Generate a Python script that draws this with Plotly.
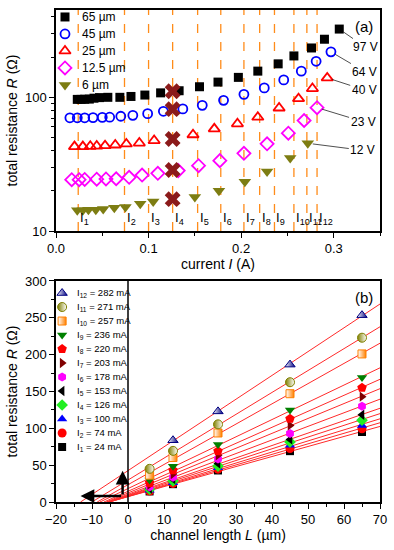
import numpy as np
import plotly.graph_objects as go

FONT = "Liberation Sans, Arial, Helvetica, sans-serif"

# ---------------- panel (a): R vs current for each channel length ----------------
I_65 = [0.023, 0.027, 0.031, 0.036, 0.041, 0.047, 0.056, 0.069, 0.081, 0.096, 0.113,
        0.133, 0.155, 0.175, 0.197, 0.218, 0.240, 0.257, 0.276, 0.290, 0.306]
R_65 = [96.5, 96.5, 96.8, 97.0, 98.5, 99.5, 100, 100, 101.5, 104, 108,
        112, 120, 130, 141, 157, 178, 204, 234, 272, 324]

I_45 = [0.015, 0.023, 0.031, 0.040, 0.050, 0.058, 0.070, 0.083, 0.099, 0.116,
        0.137, 0.158, 0.181, 0.203, 0.225, 0.246, 0.265, 0.281, 0.297]
R_45 = [70.3, 70.3, 70.3, 70.5, 70.8, 71.0, 72.2, 73.3, 75.5, 78.6,
        81.9, 87.1, 94.9, 105.3, 117.6, 135, 157, 186, 219]

I_25 = [0.020, 0.029, 0.037, 0.044, 0.053, 0.064, 0.076, 0.090, 0.106, 0.148,
        0.171, 0.196, 0.218, 0.241, 0.262, 0.277, 0.293]
R_25 = [42.8, 42.8, 43.0, 43.2, 43.5, 44.0, 44.8, 45.5, 47.5, 52.5,
        58.1, 63.4, 71.0, 83.2, 97.8, 116.3, 139.7]

I_12p5 = [0.017, 0.025, 0.031, 0.044, 0.054, 0.065, 0.079, 0.093, 0.110, 0.132,
          0.154, 0.177, 0.203, 0.228, 0.251, 0.268, 0.282]
R_12p5 = [24.2, 24.2, 24.3, 24.4, 24.5, 24.6, 25.2, 26.2, 27.0, 28.3,
          30.8, 33.6, 38.1, 44.9, 53.9, 67.1, 83.7]

I_6 = [0.023, 0.029, 0.035, 0.043, 0.051, 0.063, 0.075, 0.091, 0.105, 0.150,
       0.176, 0.204, 0.228, 0.253, 0.272]
R_6 = [14.3, 14.3, 14.4, 14.45, 14.6, 14.9, 15.1, 16.0, 16.6, 18.0,
       20.0, 23.35, 27.9, 35.2, 45.3]

series_names = ["65 µm", "45 µm", "25 µm", "12.5 µm", "6 µm"]
voltage_labels = ["97 V", "64 V", "40 V", "23 V", "12 V"]
x_ticks_a = [0.0, 0.1, 0.2, 0.3]
x_ticklabels_a = ["0.0", "0.1", "0.2", "0.3"]

# ---------------- panel (b): R vs channel length at fixed currents ----------------
currents_mA = [24, 74, 100, 126, 153, 178, 203, 220, 236, 257, 271, 282]
lengths_um = [6, 12.5, 25, 45, 65]
R_I1 = [14.3, 24.2, 42.8, 69.0, 95.0]
R_I2 = [14.9, 25.2, 44.6, 72.5, 99.5]
R_I3 = [15.8, 26.2, 46.6, 77.0, 104]
R_I4 = [17.3, 28.6, 48.8, 81.5, 111]
R_I5 = [18.2, 31.0, 52.3, 85.0, 118.5]
R_I6 = [20.2, 33.7, 58.5, 93.0, 130]
R_I7 = [23.3, 38.0, 63.5, 104, 143]
R_I8 = [26.0, 43.0, 69.0, 113, 155]
R_I9 = [30.0, 48.6, 78.0, 125, 169]
R_I10 = [36.5, 60.4, 93.7, 147, 201]
R_I11 = [45.0, 69.4, 105.4, 162.6, 223]
R_I12 = [None, 83.8, 123, 186.5, 253.6]
R_by_current = [R_I1, R_I2, R_I3, R_I4, R_I5, R_I6, R_I7, R_I8, R_I9, R_I10, R_I11, R_I12]

fig = go.Figure()

# ---- panel (a) traces ----
styles_a = [
    dict(symbol="square", color="black", size=9),
    dict(symbol="circle-open", color="#0000ff", size=9, line=dict(width=1.8, color="#0000ff")),
    dict(symbol="triangle-up-open", color="#ff0000", size=10, line=dict(width=1.8, color="#ff0000")),
    dict(symbol="diamond-open", color="#ff00ff", size=10, line=dict(width=1.8, color="#ff00ff")),
    dict(symbol="triangle-down", color="#7d7d12", size=11),
]
data_a = [(I_65, R_65), (I_45, R_45), (I_25, R_25), (I_12p5, R_12p5), (I_6, R_6)]
for name, (xi, yi), st in zip(series_names, data_a, styles_a):
    fig.add_trace(go.Scatter(x=xi, y=yi, mode="markers", name=name, marker=st,
                             showlegend=False, xaxis="x", yaxis="y"))

# crosses at I4 (interpolated resistances)
fig.add_trace(go.Scatter(x=[currents_mA[3] / 1000] * len(lengths_um), y=R_I4,
                         mode="markers", showlegend=False, xaxis="x", yaxis="y",
                         marker=dict(symbol="x", size=14, color="#8b1a1a")))

# custom legend for panel (a)
for k, (name, st) in enumerate(zip(series_names, styles_a)):
    fig.add_trace(go.Scatter(x=[9], y=[k + 0.41], mode="markers", showlegend=False,
                             marker=st, xaxis="x4", yaxis="y4"))

shapes = []
annotations = []
for k, name in enumerate(series_names):
    annotations.append(dict(xref="x4", yref="y4", x=24, y=k + 0.41, text=name, showarrow=False,
                            xanchor="left", font=dict(size=12, color="black", family=FONT)))

for k, c in enumerate(currents_mA):
    shapes.append(dict(type="line", xref="x", yref="y domain", x0=c / 1000, x1=c / 1000,
                       y0=0, y1=1, line=dict(color="#ff8c1a", width=1.3, dash="dash"), layer="below"))
    annotations.append(dict(xref="x", yref="y", x=c / 1000, y=np.log10(12.3),
                            text=f"I<sub>{k + 1}</sub>", showarrow=False, xanchor="left",
                            xshift=0, font=dict(size=13, color="black", family=FONT)))

offsets = [(26, 18), (34, 20), (37, 12), (46, 14), (55, 7)]
for (xi, yi), lab, (ax, ay) in zip(data_a, voltage_labels, offsets):
    annotations.append(dict(xref="x", yref="y", x=xi[-1], y=np.log10(yi[-1]), text=lab,
                            showarrow=True, arrowhead=0, arrowwidth=0.8, arrowcolor="#222",
                            ax=ax, ay=ay, standoff=5, font=dict(size=12, color="black", family=FONT)))

annotations.append(dict(xref="x domain", yref="y domain", x=0.985, y=0.975, text="(a)",
                        showarrow=False, xanchor="right", yanchor="top",
                        font=dict(size=15, color="black", family=FONT)))
annotations.append(dict(xref="x2 domain", yref="y2 domain", x=0.985, y=0.975, text="(b)",
                        showarrow=False, xanchor="right", yanchor="top",
                        font=dict(size=15, color="black", family=FONT)))

# ---- panel (b) traces ----
styles_b = [
    dict(symbol="square", color="black", size=8),
    dict(symbol="circle", color="#ff0000", size=9),
    dict(symbol="triangle-up", color="#0000ff", size=9),
    dict(symbol="diamond", color="#22ee22", size=9),
    dict(symbol="triangle-left", color="black", size=9),
    dict(symbol="hexagon", color="#ff00ff", size=9),
    dict(symbol="triangle-right", color="#800000", size=9),
    dict(symbol="pentagon", color="#ff0000", size=10),
    dict(symbol="triangle-down", color="#008000", size=9),
    dict(symbol="square", color="white", size=8, gradient=dict(type="horizontal", color="#ff8000"),
         line=dict(color="#ff8000", width=1)),
    dict(symbol="circle", color="#808000", size=9, gradient=dict(type="horizontal", color="white"),
         line=dict(color="#808000", width=1)),
    dict(symbol="triangle-up", color="white", size=9, gradient=dict(type="horizontal", color="#000080"),
         line=dict(color="#000080", width=1)),
]

fits = []
for R in R_by_current:
    L = np.array([l for l, r in zip(lengths_um, R) if r is not None], dtype=float)
    Rv = np.array([r for r in R if r is not None], dtype=float)
    m, b = np.polyfit(L, Rv, 1)
    fits.append((m, b))
    x0 = -b / m
    fig.add_trace(go.Scatter(x=[x0, 70], y=[0, m * 70 + b], mode="lines", showlegend=False,
                             line=dict(color="#ff2a2a", width=1), xaxis="x2", yaxis="y2"))

for R, st in zip(R_by_current, styles_b):
    fig.add_trace(go.Scatter(x=lengths_um, y=R, mode="markers", showlegend=False,
                             marker=st, xaxis="x2", yaxis="y2"))

# arrows: intercepts of the highest-current fit
m12, b12 = fits[-1]
corner = (-1.5, 8)
annotations.append(dict(xref="x2", yref="y2", axref="x2", ayref="y2", x=-b12 / m12, y=corner[1],
                        ax=corner[0], ay=corner[1], text="", showarrow=True, arrowhead=2,
                        arrowsize=1.1, arrowwidth=2.5, arrowcolor="black"))
annotations.append(dict(xref="x2", yref="y2", axref="x2", ayref="y2", x=corner[0], y=b12,
                        ax=corner[0], ay=corner[1], text="", showarrow=True, arrowhead=2,
                        arrowsize=1.1, arrowwidth=2.5, arrowcolor="black"))

shapes.append(dict(type="line", xref="x2", yref="y2 domain", x0=0, x1=0, y0=0, y1=1,
                   line=dict(color="black", width=1.5)))

# ---- custom legend for panel (b) ----
for k, (c, st) in enumerate(zip(currents_mA, styles_b)):
    fig.add_trace(go.Scatter(x=[0.085], y=[k], mode="markers", showlegend=False,
                             marker=st, xaxis="x3", yaxis="y3"))
    annotations.append(dict(xref="x3", yref="y3", x=0.27, y=k,
                            text=f"I<sub>{k + 1}</sub> = {c} mA", showarrow=False,
                            xanchor="left", font=dict(size=9.5, color="black", family=FONT)))

axis_common = dict(showline=True, linecolor="black", linewidth=1.5, mirror=True,
                   ticks="outside", ticklen=5, tickwidth=1.2, tickcolor="black",
                   showgrid=False, zeroline=False,
                   tickfont=dict(size=13, color="black", family=FONT))

fig.update_layout(
    width=394, height=550,
    margin=dict(l=56, r=14, t=10, b=48, autoexpand=False),
    paper_bgcolor="white", plot_bgcolor="rgba(0,0,0,0)",
    font=dict(family=FONT, color="black"),
    showlegend=False,
    xaxis=dict(domain=[0, 1], anchor="y", range=[0, 0.35],
               tickvals=x_ticks_a, ticktext=x_ticklabels_a,
               minor=dict(ticks="outside", ticklen=3, dtick=0.05, tick0=0, tickcolor="black"),
               title=dict(text="current <i>I</i> (A)", font=dict(size=14), standoff=4),
               **axis_common),
    yaxis=dict(domain=[0.5508, 1], anchor="x", type="log", range=[1, np.log10(450)],
               tickvals=[10, 100], ticktext=["10", "100"],
               minor=dict(ticks="outside", ticklen=3, tickcolor="black",
                          tickvals=[20, 30, 40, 50, 60, 70, 80, 90, 200, 300, 400]),
               title=dict(text="total resistance <i>R</i> (Ω)", font=dict(size=14), standoff=4),
               **axis_common),
    xaxis2=dict(domain=[0, 1], anchor="y2", range=[-20, 70], dtick=10,
                minor=dict(ticks="outside", ticklen=3, dtick=5, tickcolor="black"),
                title=dict(text="channel length <i>L</i> (µm)", font=dict(size=14), standoff=4),
                **axis_common),
    yaxis2=dict(domain=[0, 0.4492], anchor="x2", range=[0, 300], dtick=50,
                minor=dict(ticks="outside", ticklen=3, dtick=25, tickcolor="black"),
                title=dict(text="total resistance <i>R</i> (Ω)", font=dict(size=14), standoff=4),
                **axis_common),
    xaxis3=dict(domain=[0, 0.2222], anchor="y3", range=[0, 1], visible=False, fixedrange=True),
    yaxis3=dict(domain=[0, 0.4492], anchor="x3", range=[-3.93, 11.86], visible=False, fixedrange=True),
    xaxis4=dict(domain=[0, 1], anchor="y4", range=[0, 324], visible=False, fixedrange=True),
    yaxis4=dict(domain=[0.5508, 1], anchor="x4", range=[13, 0], visible=False, fixedrange=True),
    shapes=shapes,
    annotations=annotations,
)

fig.write_html("out.html", config={"displayModeBar": False},
               post_script="document.body.style.margin='0px';")
